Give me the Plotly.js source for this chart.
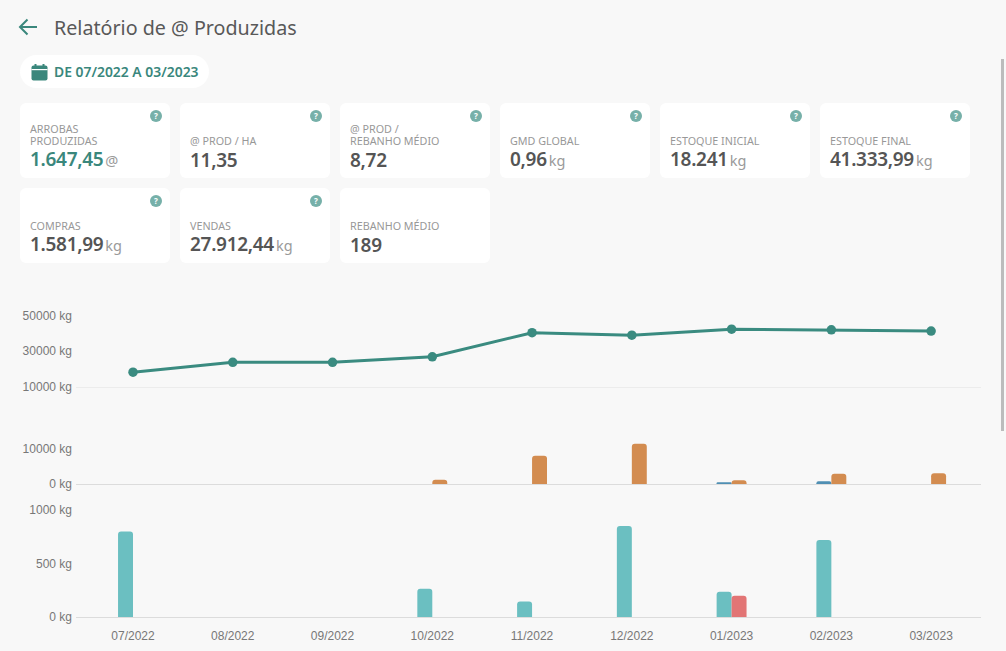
<!DOCTYPE html>
<html lang="pt-BR">
<head>
<meta charset="utf-8">
<title>Relatório de @ Produzidas</title>
<script src="https://cdn.plot.ly/plotly-3.0.1.min.js"></script>
<style>
html,body{margin:0;padding:0;width:1006px;height:651px;overflow:hidden;background:#f8f8f8;font-family:"Noto Sans",sans-serif}
#chart{position:absolute;left:0;top:0;width:1006px;height:651px}
.abs{position:absolute}
#title{left:54px;top:14px;font-size:19.7px;line-height:28px;color:#595959;white-space:nowrap}
#pill{left:20px;top:55px;width:189px;height:33px;background:#fff;border-radius:17px}
#period{left:54px;top:62px;font-size:13.9px;line-height:20px;font-weight:600;color:#3a877c;white-space:nowrap}
.card{position:absolute;width:150px;height:75px;background:#fff;border-radius:6px}
.help{position:absolute;right:8px;top:7px;width:12px;height:12px;border-radius:50%;background:#76b0a9;color:#fff;font-size:8px;line-height:12px;text-align:center;font-weight:700}
.label{position:absolute;left:10px;bottom:31px;font-size:10.75px;line-height:12px;color:#989898;white-space:pre-line}
.value{position:absolute;left:10px;bottom:8px;font-size:19px;line-height:20px;font-weight:600;color:#555;white-space:nowrap;letter-spacing:-.3px}
.value.hl{color:#3a877c}
.unit{font-size:14.5px;font-weight:400;color:#9a9a9a;margin-left:2px;letter-spacing:0}
#scroll{left:1001px;top:59px;width:3px;height:372px;background:#bcbcbc}
</style>
</head>
<body>
<div id="chart"></div>
<svg class="abs" style="left:18px;top:17px" width="20" height="20" viewBox="0 0 20 20"><path d="M2 10H19M9.5 2.5L2 10L9.5 17.5" fill="none" stroke="#3a877c" stroke-width="2"/></svg>
<div id="title" class="abs">Relatório de @ Produzidas</div>
<div id="pill" class="abs"></div>
<svg class="abs" style="left:31px;top:64px" width="17" height="17" viewBox="0 0 17 17"><rect x="0.5" y="1.5" width="16" height="15" rx="2" fill="#3a877c"/><rect x="0.5" y="5" width="16" height="1.2" fill="#fff"/><rect x="3.5" y="0" width="2" height="3" fill="#3a877c"/><rect x="11.5" y="0" width="2" height="3" fill="#3a877c"/></svg>
<div id="period" class="abs">DE 07/2022 A 03/2023</div>
<div id="cards"></div>
<div id="scroll" class="abs"></div>
<script>
// KPI cards
const cardLabels = ["ARROBAS\nPRODUZIDAS","@ PROD / HA","@ PROD /\nREBANHO MÉDIO","GMD GLOBAL","ESTOQUE INICIAL","ESTOQUE FINAL","COMPRAS","VENDAS","REBANHO MÉDIO"];
const cardValues = ["1.647,45","11,35","8,72","0,96","18.241","41.333,99","1.581,99","27.912,44","189"];
const cardUnits  = ["@","","","kg","kg","kg","kg","kg",""];
const cardHelp   = [true,true,true,true,true,true,true,true,false];

// Chart data
const months = ["07/2022","08/2022","09/2022","10/2022","11/2022","12/2022","01/2023","02/2023","03/2023"];
const estoque = [18241,23800,23800,26900,40400,39000,42400,42000,41334];
const serieAzul = [0,0,0,0,0,0,550,830,0];
const serieLaranja = [0,0,0,1200,7900,11250,1100,2900,3070];
const serieTurquesa = [801,0,0,264,145,851,236,720,0];
const serieVermelha = [0,0,0,0,0,0,198,0,0];
const ticksEstoque = [10000,30000,50000];
const ticksVendas = [0,10000];
const ticksCompras = [0,500,1000];

const cardsEl = document.getElementById('cards');
cardLabels.forEach((lab,i)=>{
  const c = document.createElement('div');
  c.className='card';
  c.style.left = (20 + (i%6)*160)+'px';
  c.style.top = (i<6?103:188)+'px';
  c.innerHTML = (cardHelp[i]?'<div class="help">?</div>':'') +
    '<div class="label"></div><div class="value'+(i===0?' hl':'')+'"></div>';
  c.querySelector('.label').textContent = lab;
  const v = c.querySelector('.value');
  v.textContent = cardValues[i];
  if(cardUnits[i]){const u=document.createElement('span');u.className='unit';u.textContent=cardUnits[i];v.appendChild(u);}
  cardsEl.appendChild(c);
});

const tickFont = {family:'"Liberation Sans",Arial,sans-serif',size:12,color:'#777'};
const top0=315, bot=617.3, H=bot-top0;
const dom=(a,b)=>[(bot-b)/H,(bot-a)/H];
const xBase = {type:'category',range:[-0.5714,8.5],showgrid:false,zeroline:false,showline:true,ticks:'',fixedrange:true,tickfont:tickFont};
const yBase = {showgrid:false,zeroline:false,showline:false,ticks:'',tickfont:tickFont,ticklabelstandoff:3,fixedrange:true,tickmode:'array'};
const kg = a => a.map(v => v + ' kg');

const traces = [
 {type:'scatter',mode:'lines+markers',x:months,y:estoque,xaxis:'x',yaxis:'y',
  line:{color:'#3a8b80',width:3},marker:{color:'#3a8b80',size:9.5},cliponaxis:false,hoverinfo:'skip'},
 {type:'bar',x:months,y:serieAzul,xaxis:'x2',yaxis:'y2',marker:{color:'#4f8fb3'},hoverinfo:'skip'},
 {type:'bar',x:months,y:serieLaranja,xaxis:'x2',yaxis:'y2',marker:{color:'#d38c50'},hoverinfo:'skip'},
 {type:'bar',x:months,y:serieTurquesa,xaxis:'x3',yaxis:'y3',marker:{color:'#6bbfc1'},hoverinfo:'skip'},
 {type:'bar',x:months,y:serieVermelha,xaxis:'x3',yaxis:'y3',marker:{color:'#e27575'},hoverinfo:'skip'}
];
const layout = {
  width:1006,height:651,showlegend:false,
  paper_bgcolor:'rgba(0,0,0,0)',plot_bgcolor:'rgba(0,0,0,0)',
  margin:{l:76,r:25,t:top0,b:651-bot,pad:0},
  barmode:'group',bargap:0.7,bargroupgap:0,barcornerradius:3,
  xaxis:{...xBase,anchor:'y',showticklabels:false,linecolor:'#ececec',linewidth:1.5},
  xaxis2:{...xBase,anchor:'y2',showticklabels:false,linecolor:'#dcdcdc',linewidth:1},
  xaxis3:{...xBase,anchor:'y3',linecolor:'#dcdcdc',linewidth:1,ticklabelstandoff:8},
  yaxis:{...yBase,anchor:'x',domain:dom(315.6,387),range:[10000,50000],tickvals:ticksEstoque,ticktext:kg(ticksEstoque)},
  yaxis2:{...yBase,anchor:'x2',domain:dom(441.3,484.3),range:[0,12000],tickvals:ticksVendas,ticktext:kg(ticksVendas)},
  yaxis3:{...yBase,anchor:'x3',domain:dom(510.4,617.3),range:[0,1000],tickvals:ticksCompras,ticktext:kg(ticksCompras)}
};
Plotly.newPlot('chart',traces,layout,{displayModeBar:false,staticPlot:true});
</script>
</body>
</html>
